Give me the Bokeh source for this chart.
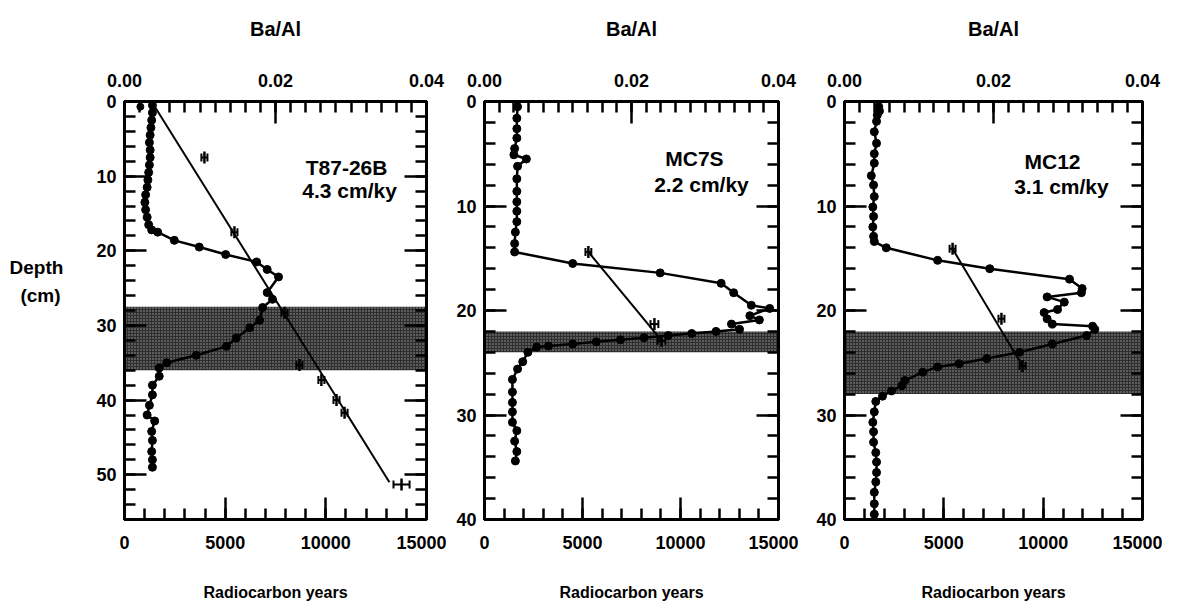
import numpy as np
from bokeh.plotting import figure
from bokeh.models import (Range1d, LinearAxis, SingleIntervalTicker,
                          PrintfTickFormatter, Label)
from bokeh.core.properties import value
from bokeh.layouts import row
from bokeh.embed import file_html
from bokeh.resources import INLINE

# ---------------- data ----------------
# Panel 1: T87-26B
ba_depth_1 = [0.5, 1.5, 2.5, 3.5, 4.5, 5.5, 6.5, 7.5, 8.5, 9.5, 10.5, 11.5, 12.5, 13.5, 14.5,
              15.5, 16.5, 17.2, 17.5, 18.6, 19.5, 20.5, 21.5, 22.5, 23.5, 25.6, 26.5, 27.6,
              29.3, 30.3, 31.7, 32.8, 34.0, 35.0, 35.7, 36.8, 38.0, 39.3, 40.7, 42.0, 42.8,
              44.2, 45.4, 46.9, 48.0, 49.0]
ba_val_1 = [0.0037, 0.0037, 0.0036, 0.0035, 0.0034, 0.0033, 0.0034, 0.0034, 0.0033, 0.0032,
            0.0031, 0.0030, 0.0028, 0.0027, 0.0028, 0.0030, 0.0032, 0.0036, 0.0044, 0.0066,
            0.0099, 0.0134, 0.0175, 0.0189, 0.0204, 0.0189, 0.0196, 0.0183, 0.0179, 0.0166,
            0.0148, 0.0135, 0.0095, 0.0056, 0.0046, 0.0046, 0.0037, 0.0037, 0.0033, 0.0030,
            0.0040, 0.0036, 0.0037, 0.0036, 0.0037, 0.0037]
ba_extra_depth_1 = [0.7]
ba_extra_val_1 = [0.0021]
c14_age_1 = [3970, 5460, 7950, 8690, 9780, 10530, 10930, 13760]
c14_depth_1 = [7.5, 17.5, 28.3, 35.3, 37.3, 40.0, 41.7, 51.3]
c14_err_1 = [150, 150, 150, 150, 150, 150, 150, 400]
fit_age_1 = [1390, 13160]
fit_depth_1 = [0.2, 51.0]
band_1 = [27.5, 36.0]

# Panel 2: MC7S
ba_depth_2 = [0.5, 1.6, 2.6, 3.5, 4.5, 5.1, 5.5, 6.2, 7.4, 8.6, 9.6, 10.5, 11.5, 12.5, 13.6,
              14.4, 15.5, 16.4, 17.4, 18.3, 19.5, 19.8, 20.5, 20.9, 21.3, 21.8, 22.0, 22.2,
              22.4, 22.6, 22.8, 23.0, 23.2, 23.4, 23.5, 24.0, 24.9, 25.6, 26.6, 27.8, 28.8,
              29.7, 30.7, 31.5, 32.5, 33.5, 34.4]
ba_val_2 = [0.0045, 0.0044, 0.0044, 0.0044, 0.0041, 0.0040, 0.0057, 0.0045, 0.0044, 0.0044,
            0.0044, 0.0044, 0.0044, 0.0042, 0.0041, 0.0041, 0.0120, 0.0239, 0.0322, 0.0339,
            0.0363, 0.0388, 0.0361, 0.0374, 0.0336, 0.0347, 0.0315, 0.0282, 0.0250, 0.0217,
            0.0185, 0.0152, 0.0120, 0.0087, 0.0071, 0.0059, 0.0052, 0.0045, 0.0038, 0.0038,
            0.0038, 0.0038, 0.0038, 0.0044, 0.0041, 0.0044, 0.0042]
c14_age_2 = [5300, 8670, 9030]
c14_depth_2 = [14.4, 21.3, 22.9]
c14_err_2 = [150, 200, 200]
fit_age_2 = [5300, 9050]
fit_depth_2 = [14.4, 22.9]
band_2 = [22.0, 24.0]

# Panel 3: MC12
ba_depth_3 = [0.5, 0.9, 1.3, 1.9, 2.9, 4.0, 5.0, 5.9, 7.1, 8.0, 9.1, 10.1, 11.0, 12.0, 12.9,
              13.4, 14.0, 15.2, 16.0, 17.0, 17.9, 18.3, 18.7, 19.2, 19.9, 20.2, 20.8, 21.3,
              21.5, 21.8, 22.4, 23.2, 24.0, 24.6, 25.1, 25.4, 25.9, 26.7, 27.2, 27.7, 28.2,
              28.7, 29.7, 30.7, 31.6, 32.6, 33.6, 34.5, 35.5, 36.4, 37.4, 38.5, 39.5]
ba_val_3 = [0.0046, 0.0047, 0.0044, 0.0043, 0.0040, 0.0043, 0.0040, 0.0040, 0.0036, 0.0039,
            0.0040, 0.0038, 0.0039, 0.0038, 0.0039, 0.0040, 0.0056, 0.0125, 0.0195, 0.0302,
            0.0319, 0.0318, 0.0272, 0.0295, 0.0286, 0.0268, 0.0272, 0.0279, 0.0333, 0.0336,
            0.0325, 0.0279, 0.0235, 0.0191, 0.0154, 0.0125, 0.0105, 0.0081, 0.0077, 0.0063,
            0.0051, 0.0042, 0.0040, 0.0038, 0.0039, 0.0039, 0.0042, 0.0043, 0.0043, 0.0042,
            0.0040, 0.0040, 0.0040]
c14_age_3 = [5440, 7900, 8960]
c14_depth_3 = [14.1, 20.8, 25.3]
c14_err_3 = [150, 150, 150]
fit_age_3 = [5440, 8960]
fit_depth_3 = [14.1, 25.3]
band_3 = [22.0, 28.0]

core_names = ["T87-26B", "MC7S", "MC12"]
rates = ["4.3 cm/ky", "2.2 cm/ky", "3.1 cm/ky"]
depth_max = [56, 40, 40]
depth_label = ["Depth", "(cm)"]
depth_label_y = [22.3, 26.0]

FONT = "Liberation Sans"
TICK_FS = "18px"
TOP_FS = "20px"
BOT_FS = "16px"
CORE_FS = "21px"
TOP_B, FRAME_H, BOT_B = 101, 418, 88
H = TOP_B + FRAME_H + BOT_B


def style_axis(ax, standoff=10, label_standoff=10, label_fs=BOT_FS):
    ax.axis_line_width = 3
    ax.axis_line_color = "black"
    ax.major_tick_in = 22
    ax.major_tick_out = 0
    ax.minor_tick_in = 11
    ax.minor_tick_out = 0
    ax.major_tick_line_width = 2.5
    ax.minor_tick_line_width = 2.5
    ax.major_tick_line_color = "black"
    ax.minor_tick_line_color = "black"
    ax.major_label_text_font = FONT
    ax.major_label_text_font_style = "bold"
    ax.major_label_text_font_size = TICK_FS
    ax.major_label_text_color = "black"
    ax.major_label_standoff = standoff
    ax.axis_label_text_font = FONT
    ax.axis_label_text_font_style = "bold"
    ax.axis_label_text_font_size = label_fs
    ax.axis_label_text_color = "black"
    ax.axis_label_standoff = label_standoff


def make_panel(i, ba_d, ba_v, c_age, c_dep, c_err, f_age, f_dep, band,
               left_border, frame_w, label_pos, extra=None):
    dmax = depth_max[i]
    width = left_border + frame_w + 20
    p = figure(width=width, height=H, x_range=Range1d(0, 15000),
               y_range=Range1d(dmax, 0), output_backend="svg",
               toolbar_location=None, x_axis_location=None, y_axis_location=None,
               min_border_left=left_border, min_border_right=20,
               min_border_top=TOP_B, min_border_bottom=BOT_B)
    p.grid.visible = False
    p.outline_line_color = "black"
    p.outline_line_width = 3
    p.background_fill_color = "white"
    p.border_fill_color = "white"
    p.extra_x_ranges = {"ba": Range1d(0, 0.04)}

    bottom = LinearAxis(ticker=SingleIntervalTicker(interval=5000, num_minor_ticks=5),
                        formatter=PrintfTickFormatter(format="%d"),
                        axis_label="Radiocarbon years")
    style_axis(bottom, standoff=16, label_standoff=32, label_fs=BOT_FS)
    p.add_layout(bottom, "below")

    top = LinearAxis(x_range_name="ba",
                     ticker=SingleIntervalTicker(interval=0.02, num_minor_ticks=10),
                     formatter=PrintfTickFormatter(format="%.2f"), axis_label="Ba/Al")
    style_axis(top, standoff=15, label_standoff=31, label_fs=TOP_FS)
    p.add_layout(top, "above")

    left = LinearAxis(ticker=SingleIntervalTicker(interval=10, num_minor_ticks=5),
                      formatter=PrintfTickFormatter(format="%d"))
    style_axis(left, standoff=8)
    p.add_layout(left, "left")

    right = LinearAxis(ticker=SingleIntervalTicker(interval=10, num_minor_ticks=5),
                       major_label_overrides={float(v): "" for v in range(0, 61, 10)})
    style_axis(right, standoff=2)
    p.add_layout(right, "right")

    # stippled event layer
    p.quad(left=[0], right=[15000], bottom=[band[1]], top=[band[0]],
           fill_color="#2e2e2e", line_color=None,
           hatch_pattern="dot", hatch_color="white", hatch_scale=3,
           hatch_weight=1, hatch_alpha=0.55)

    # Ba/Al profile (top axis)
    p.line(ba_v, ba_d, x_range_name="ba", line_color="black", line_width=2.5)
    p.scatter(ba_v, ba_d, x_range_name="ba", marker="circle", size=8,
              fill_color="black", line_color="black")
    if extra is not None:
        p.scatter(extra[0], extra[1], x_range_name="ba", marker="circle", size=7,
                  fill_color="black", line_color="black")

    # radiocarbon age-depth line
    p.line(f_age, f_dep, line_color="black", line_width=2)
    c_age = np.array(c_age, dtype=float)
    c_err = np.array(c_err, dtype=float)
    p.segment(x0=c_age - c_err, x1=c_age + c_err, y0=c_dep, y1=c_dep,
              line_color="black", line_width=2)
    p.scatter(c_age, c_dep, marker="dash", angle=np.pi / 2, size=12,
              line_color="black", line_width=2.5)
    p.scatter(np.concatenate([c_age - c_err, c_age + c_err]), list(c_dep) * 2,
              marker="dash", angle=np.pi / 2, size=8, line_color="black", line_width=2)

    (nx, ny), (rx, ry) = label_pos
    for txt, x, y in [(core_names[i], nx, ny), (rates[i], rx, ry)]:
        p.add_layout(Label(x=x, y=y, text=txt, text_align="center", text_baseline="middle",
                           text_font=FONT, text_font_style="bold", text_font_size=CORE_FS,
                           text_color="black"))
    return p


# narrow figure holding the "Depth (cm)" caption
LW = 70
p0 = figure(width=LW, height=H, x_range=Range1d(0, LW), y_range=Range1d(depth_max[0], 0),
            output_backend="svg", toolbar_location=None,
            x_axis_location=None, y_axis_location=None,
            min_border_left=0, min_border_right=0,
            min_border_top=TOP_B, min_border_bottom=BOT_B)
p0.grid.visible = False
p0.outline_line_color = None
p0.text(x=[36, 40], y=depth_label_y, text=depth_label, text_align="center",
        text_baseline="middle", text_font=value(FONT), text_font_style="bold",
        text_font_size="19px", text_color="black")

p1 = make_panel(0, ba_depth_1, ba_val_1, c14_age_1, c14_depth_1, c14_err_1,
                fit_age_1, fit_depth_1, band_1, 124 - LW, 302,
                ((11030, 8.9), (11180, 11.9)), extra=(ba_extra_val_1, ba_extra_depth_1))
p2 = make_panel(1, ba_depth_2, ba_val_2, c14_age_2, c14_depth_2, c14_err_2,
                fit_age_2, fit_depth_2, band_2, 38, 294,
                ((10710, 5.5), (11070, 7.9)))
p3 = make_panel(2, ba_depth_3, ba_val_3, c14_age_3, c14_depth_3, c14_err_3,
                fit_age_3, fit_depth_3, band_3, 46, 298,
                ((10470, 5.7), (10920, 8.1)))

layout = row(p0, p1, p2, p3)
open("out.html", "w").write(file_html(layout, INLINE))
